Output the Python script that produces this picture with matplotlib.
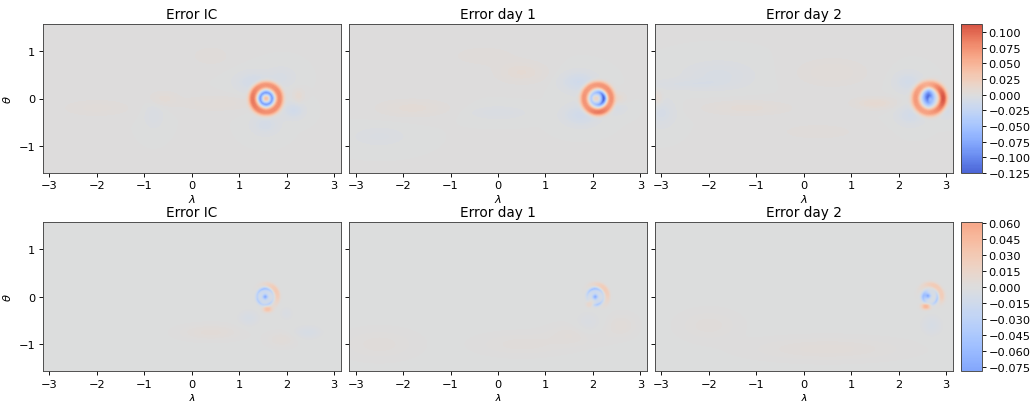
import numpy as np
import matplotlib
matplotlib.use("Agg")
import matplotlib.pyplot as plt
from matplotlib.colors import Normalize
from matplotlib.ticker import FuncFormatter

# ---------------- data ----------------
titles = ["Error IC", "Error day 1", "Error day 2"]
xticks = [-3, -2, -1, 0, 1, 2, 3]
yticks = [-1, 0, 1]
cbar_ticks_top = [0.100, 0.075, 0.050, 0.025, 0.000, -0.025, -0.050, -0.075, -0.100, -0.125]
cbar_ticks_bot = [0.060, 0.045, 0.030, 0.015, 0.000, -0.015, -0.030, -0.045, -0.060, -0.075]
range_top = (-0.125, 0.113)
range_bot = (-0.0787, 0.0605)
norm_limit = 0.14

# arcs: (lon, lat, radius, width, angle_deg, spread_deg, amplitude); spread >= 180 -> full ring
# blobs: (lon, lat, sigma_lon, sigma_lat, amplitude)
arcs_top_ic = [(1.57, 0.0, 0.285, 0.055, 0, 360, 0.078),
               (1.57, 0.0, 0.285, 0.05, 180, 40, 0.012),
               (1.57, 0.0, 0.125, 0.045, 0, 360, -0.085)]
blobs_top_ic = [(1.57, 0.0, 0.04, 0.04, 0.04),
                (1.30, 0.35, 0.25, 0.15, -0.011), (2.15, -0.25, 0.15, 0.12, -0.013),
                (1.55, -0.55, 0.20, 0.15, -0.009), (-0.80, -0.35, 0.15, 0.20, -0.005),
                (1.90, 0.45, 0.20, 0.15, -0.006), (-0.60, 0.00, 0.20, 0.10, 0.006),
                (0.50, -0.10, 0.50, 0.10, 0.005), (0.40, 0.90, 0.30, 0.15, 0.003),
                (2.25, 0.05, 0.08, 0.10, 0.008), (-2.00, -0.20, 0.50, 0.12, 0.004)]

arcs_top_d1 = [(2.10, 0.0, 0.285, 0.055, 0, 360, 0.075),
               (2.10, 0.0, 0.285, 0.05, -90, 30, 0.02),
               (2.10, 0.0, 0.13, 0.05, 0, 360, -0.04),
               (2.10, 0.0, 0.13, 0.05, 0, 55, -0.09)]
blobs_top_d1 = [(2.05, 0.0, 0.04, 0.04, 0.025),
                (1.70, 0.35, 0.25, 0.15, -0.014), (1.75, -0.35, 0.25, 0.15, -0.014),
                (2.50, -0.20, 0.15, 0.10, -0.007), (0.00, -0.30, 0.40, 0.10, -0.005),
                (-2.50, -0.80, 0.40, 0.15, -0.004), (0.50, 0.55, 0.35, 0.15, 0.007),
                (-1.80, -0.20, 0.50, 0.12, 0.006), (2.55, 0.00, 0.10, 0.08, 0.008),
                (-0.30, 0.90, 0.50, 0.15, 0.003)]

arcs_top_d2 = [(2.65, 0.0, 0.29, 0.06, 0, 360, 0.072),
               (2.65, 0.0, 0.29, 0.05, 0, 35, 0.04)]
blobs_top_d2 = [(2.63, 0.03, 0.09, 0.13, -0.125), (2.67, -0.02, 0.03, 0.04, 0.04),
                (2.20, 0.35, 0.20, 0.15, -0.011), (2.25, -0.35, 0.20, 0.15, -0.011),
                (3.00, -0.25, 0.12, 0.12, -0.009), (-3.00, -0.30, 0.20, 0.20, -0.008),
                (-1.80, 0.50, 0.50, 0.20, -0.006), (-2.50, 0.30, 0.60, 0.08, -0.005),
                (-1.20, -0.20, 0.60, 0.10, 0.006), (0.60, 0.55, 0.50, 0.20, 0.005),
                (1.50, -0.10, 0.30, 0.08, 0.009), (-3.10, 0.00, 0.08, 0.10, 0.009),
                (0.30, -0.70, 0.60, 0.12, 0.003)]

arcs_bot_ic = [(1.55, 0.0, 0.17, 0.035, 100, 55, -0.055),
               (1.55, 0.0, 0.17, 0.035, 220, 30, -0.035),
               (1.55, 0.0, 0.17, 0.035, -60, 30, -0.035),
               (1.55, 0.0, 0.26, 0.035, 30, 45, 0.03)]
blobs_bot_ic = [(1.55, 0.0, 0.05, 0.05, -0.078), (1.60, -0.26, 0.06, 0.04, 0.035),
                (0.40, -0.75, 0.40, 0.10, 0.005), (1.20, -0.45, 0.15, 0.12, -0.007),
                (2.45, -0.75, 0.20, 0.10, -0.007), (2.00, -0.35, 0.10, 0.10, -0.005),
                (1.90, -0.90, 0.20, 0.10, 0.004)]

arcs_bot_d1 = [(2.05, 0.0, 0.17, 0.035, 100, 55, -0.055),
               (2.05, 0.0, 0.17, 0.035, -70, 35, -0.045),
               (2.05, 0.0, 0.26, 0.035, 40, 45, 0.028)]
blobs_bot_d1 = [(2.05, 0.0, 0.05, 0.05, -0.075), (1.95, -0.15, 0.05, 0.04, 0.026),
                (1.70, -0.80, 0.40, 0.15, 0.004), (1.90, -0.60, 0.20, 0.20, -0.005),
                (2.60, -0.60, 0.20, 0.15, 0.004), (-2.50, -1.00, 0.50, 0.20, 0.003),
                (0.50, -1.00, 0.60, 0.15, 0.003)]

arcs_bot_d2 = [(2.65, 0.0, 0.14, 0.035, 180, 50, -0.05),
               (2.65, 0.0, 0.17, 0.035, -20, 40, -0.045),
               (2.65, 0.0, 0.26, 0.035, 60, 45, 0.028)]
blobs_bot_d2 = [(2.62, 0.02, 0.05, 0.05, -0.078), (2.58, -0.20, 0.06, 0.04, 0.050),
                (2.90, 0.00, 0.05, 0.08, 0.015), (0.50, -1.10, 1.00, 0.15, 0.004),
                (2.70, -0.60, 0.15, 0.15, -0.007), (-2.00, -0.60, 0.40, 0.20, 0.003)]

rows = [
    (range_top, cbar_ticks_top, [(arcs_top_ic, blobs_top_ic), (arcs_top_d1, blobs_top_d1), (arcs_top_d2, blobs_top_d2)]),
    (range_bot, cbar_ticks_bot, [(arcs_bot_ic, blobs_bot_ic), (arcs_bot_d1, blobs_bot_d1), (arcs_bot_d2, blobs_bot_d2)]),
]

# ---------------- grid / field ----------------
lon = np.linspace(-np.pi, np.pi, 512)
lat = np.linspace(-np.pi / 2, np.pi / 2, 256)
LON, LAT = np.meshgrid(lon, lat)


def build_field(arcs, blobs):
    z = np.zeros_like(LON)
    for x0, y0, R, w, a0, da, amp in arcs:
        dx = LON - x0
        dy = LAT - y0
        r = np.hypot(dx, dy)
        radial = np.exp(-0.5 * ((r - R) / w) ** 2)
        if da >= 180:
            win = 1.0
        else:
            ang = np.degrees(np.arctan2(dy, dx))
            d = (ang - a0 + 180) % 360 - 180
            win = np.exp(-0.5 * (d / da) ** 2)
        z += amp * radial * win
    for x0, y0, sx, sy, amp in blobs:
        z += amp * np.exp(-0.5 * (((LON - x0) / sx) ** 2 + ((LAT - y0) / sy) ** 2))
    return z


# ---------------- figure ----------------
W, H = 1030, 402
fig = plt.figure(figsize=(W / 100, H / 100), dpi=100)
fs_tick = 8.2
fs_title = 9.8

lefts = [42.7, 349.0, 654.7]
ax_w = 298.0
tops = [25.0, 223.3]
ax_h = 149.0
cb_left, cb_w = 961.0, 21.0

norm = Normalize(-norm_limit, norm_limit)
fmt = FuncFormatter(lambda v, p: ("%.3f" % v).replace("-", "\u2212"))

for r, (rng, cticks, panels) in enumerate(rows):
    lo, hi = rng
    levels = np.linspace(lo, hi, 140)
    cs = None
    for c, (arcs, blobs) in enumerate(panels):
        ax = fig.add_axes([lefts[c] / W, 1 - (tops[r] + ax_h) / H, ax_w / W, ax_h / H])
        z = np.clip(build_field(arcs, blobs), lo, hi)
        cs = ax.contourf(lon, lat, z, levels=levels, cmap="coolwarm", norm=norm, antialiased=False)
        ax.set_xlim(-np.pi, np.pi)
        ax.set_ylim(-np.pi / 2, np.pi / 2)
        ax.set_xticks(xticks)
        ax.set_yticks(yticks)
        ax.tick_params(labelsize=fs_tick, length=2.8, width=0.65, pad=2.5)
        for s in ax.spines.values():
            s.set_linewidth(0.65)
            s.set_color("#444444")
        if c == 0:
            ax.set_ylabel(r"$\theta$", fontsize=fs_tick, labelpad=4)
        else:
            ax.tick_params(labelleft=False)
        ax.set_xlabel(r"$\lambda$", fontsize=fs_tick, labelpad=1.5)
        ax.set_title(titles[c], fontsize=fs_title, pad=4.5)
    cax = fig.add_axes([cb_left / W, 1 - (tops[r] + ax_h) / H, cb_w / W, ax_h / H])
    cb = fig.colorbar(cs, cax=cax, ticks=cticks, format=fmt)
    cb.ax.tick_params(labelsize=fs_tick, length=2.8, width=0.65, pad=2)
    cb.outline.set_linewidth(0.65)
    cb.outline.set_edgecolor("#444444")

fig.savefig("out.png", dpi=100)
